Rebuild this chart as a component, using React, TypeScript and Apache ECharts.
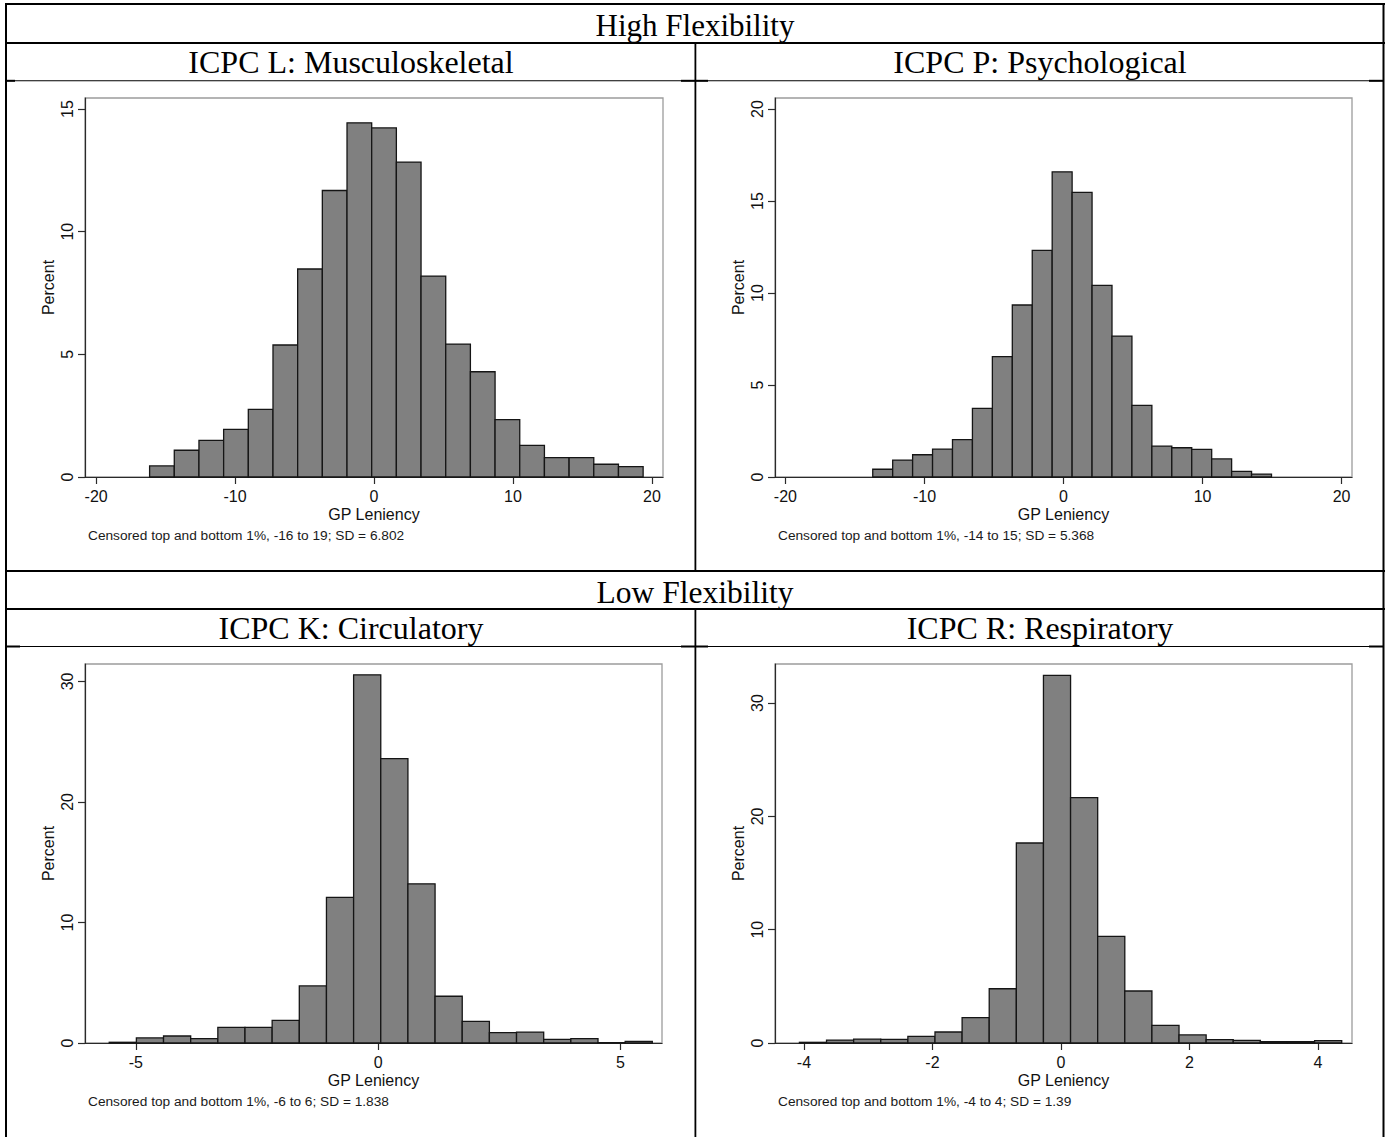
import React, { useEffect, useRef } from "react";
import * as echarts from "echarts";

// ---- Data (percent per bin) ----
const MUSCULO_PCT = [0.45, 1.09, 1.49, 1.94, 2.76, 5.38, 8.48, 11.68, 14.44, 14.23, 12.84, 8.19, 5.42, 4.29, 2.34, 1.29, 0.79, 0.79, 0.52, 0.42];
const PSYCH_PCT = [0.42, 0.92, 1.21, 1.52, 2.03, 3.73, 6.54, 9.35, 12.32, 16.59, 15.47, 10.42, 7.66, 3.89, 1.68, 1.59, 1.5, 0.98, 0.31, 0.16];
const CIRC_PCT = [0.06, 0.42, 0.58, 0.36, 1.3, 1.3, 1.88, 4.74, 12.08, 30.55, 23.6, 13.21, 3.88, 1.8, 0.86, 0.91, 0.3, 0.36, 0.03, 0.14];
const RESP_PCT = [0.06, 0.26, 0.35, 0.32, 0.59, 0.97, 2.24, 4.79, 17.65, 32.44, 21.65, 9.41, 4.59, 1.56, 0.71, 0.29, 0.24, 0.12, 0.12, 0.21];

// bin lower edge of first bin and bin width (GP leniency units)
const BIN_STARTS = [-16.15, -13.72, -5.55, -4.07];
const BIN_WIDTHS = [1.776, 1.434, 0.5605, 0.422];

const X_TICKS_L = [-20, -10, 0, 10, 20];
const X_TICKS_P = [-20, -10, 0, 10, 20];
const X_TICKS_K = [-5, 0, 5];
const X_TICKS_R = [-4, -2, 0, 2, 4];
const Y_TICKS_L = [0, 5, 10, 15];
const Y_TICKS_P = [0, 5, 10, 15, 20];
const Y_TICKS_K = [0, 10, 20, 30];
const Y_TICKS_R = [0, 10, 20, 30];

const X_RANGES = [[-20.8, 20.8], [-20.75, 20.75], [-6.05, 5.86], [-4.45, 4.53]];
const Y_MAX = [15.45, 20.6, 31.45, 33.45];

const PANEL_TITLES = ["ICPC L: Musculoskeletal", "ICPC P: Psychological", "ICPC K: Circulatory", "ICPC R: Respiratory"];
const ROW_TITLES = ["High Flexibility", "Low Flexibility"];
const NOTES = [
  "Censored top and bottom 1%, -16 to 19; SD = 6.802",
  "Censored top and bottom 1%, -14 to 15; SD = 5.368",
  "Censored top and bottom 1%, -6 to 6; SD = 1.838",
  "Censored top and bottom 1%, -4 to 4; SD = 1.39",
];

const SANS = '"Liberation Sans", Arial, sans-serif';
const SERIF = '"Liberation Serif", "Times New Roman", serif';

const GRIDS = [
  { left: 85, top: 98, width: 578, height: 379 },
  { left: 775, top: 98, width: 577, height: 379 },
  { left: 85, top: 664, width: 577, height: 379 },
  { left: 775, top: 664, width: 577, height: 379 },
];

function buildOption() {
  const pcts = [MUSCULO_PCT, PSYCH_PCT, CIRC_PCT, RESP_PCT];
  const xTicks = [X_TICKS_L, X_TICKS_P, X_TICKS_K, X_TICKS_R];
  const yTicks = [Y_TICKS_L, Y_TICKS_P, Y_TICKS_K, Y_TICKS_R];

  const grid = GRIDS.map((g) => ({
    ...g,
    show: true,
    borderColor: "#9c9c9c",
    borderWidth: 1.3,
    backgroundColor: "transparent",
    containLabel: false,
  }));

  const axisCommon = {
    axisLine: { show: true, onZero: false, lineStyle: { color: "#2a2a2a", width: 1.2 } },
    splitLine: { show: false },
  };

  const xAxis = GRIDS.map((_, i) => ({
    gridIndex: i,
    type: "value",
    min: X_RANGES[i][0],
    max: X_RANGES[i][1],
    ...axisCommon,
    axisTick: { show: true, length: 7, customValues: xTicks[i], lineStyle: { color: "#2a2a2a", width: 1.2 } },
    axisLabel: { customValues: xTicks[i], margin: 11, fontSize: 16, color: "#111", fontFamily: SANS },
    name: "GP Leniency",
    nameLocation: "middle",
    nameGap: 29,
    nameTextStyle: { fontSize: 16, color: "#111", fontFamily: SANS },
  }));

  const yAxis = GRIDS.map((_, i) => ({
    gridIndex: i,
    type: "value",
    min: 0,
    max: Y_MAX[i],
    ...axisCommon,
    axisTick: { show: true, length: 7, customValues: yTicks[i], lineStyle: { color: "#2a2a2a", width: 1.2 } },
    axisLabel: { customValues: yTicks[i], rotate: 90, margin: 10, fontSize: 16, color: "#111", fontFamily: SANS },
    name: "Percent",
    nameLocation: "middle",
    nameGap: 29,
    nameRotate: 90,
    nameTextStyle: { fontSize: 16, color: "#111", fontFamily: SANS },
  }));

  const series = pcts.map((arr, i) => ({
    type: "custom",
    xAxisIndex: i,
    yAxisIndex: i,
    encode: { x: [0, 1], y: 2 },
    data: arr.map((v, k) => [BIN_STARTS[i] + k * BIN_WIDTHS[i], BIN_STARTS[i] + (k + 1) * BIN_WIDTHS[i], v]),
    renderItem: (params: any, api: any) => {
      const p0 = api.coord([api.value(0), api.value(2)]);
      const p1 = api.coord([api.value(1), 0]);
      return {
        type: "rect",
        shape: { x: p0[0], y: p0[1], width: p1[0] - p0[0], height: p1[1] - p0[1] },
        style: { fill: "#808080", stroke: "#151515", lineWidth: 1.3 },
      };
    },
  }));

  const rect = (x: number, y: number, w: number, h: number) => ({
    type: "rect",
    shape: { x, y, width: w, height: h },
    style: { fill: "#000" },
    silent: true,
  });

  const lines = [
    rect(5, 3, 1380, 2),
    rect(5, 42, 1380, 2),
    rect(6, 80.3, 1378, 1),
    rect(5, 570, 1380, 2),
    rect(5, 608, 1380, 2),
    rect(6, 646, 1378, 1),
    rect(5, 3, 2, 1134),
    rect(1382.5, 3, 2, 1134),
    rect(694.5, 42, 1.8, 530),
    rect(694.5, 608, 1.8, 529),
    // small thick segments where the cell borders meet
    rect(6, 79.8, 9, 2),
    rect(681, 79.8, 27, 2),
    rect(1369, 79.8, 14, 2),
    rect(6, 645.5, 14, 2),
    rect(681, 645.5, 27, 2),
    rect(1369, 645.5, 14, 2),
  ];

  const text = (t: string, x: number, y: number, size: number, family: string, align: string) => ({
    type: "text",
    x,
    y,
    silent: true,
    style: { text: t, fontSize: size, fontFamily: family, fill: "#000", align, verticalAlign: "middle" },
  });

  const texts = [
    text(ROW_TITLES[0], 695, 25, 31, SERIF, "center"),
    text(ROW_TITLES[1], 695, 592, 31.5, SERIF, "center"),
    text(PANEL_TITLES[0], 351, 62, 32, SERIF, "center"),
    text(PANEL_TITLES[1], 1040, 62, 32, SERIF, "center"),
    text(PANEL_TITLES[2], 351, 628, 32, SERIF, "center"),
    text(PANEL_TITLES[3], 1040, 628, 32, SERIF, "center"),
    { ...text(NOTES[0], 88, 535.5, 13.7, SANS, "left"), style: { ...text(NOTES[0], 0, 0, 13.7, SANS, "left").style, fill: "#1a1a1a" } },
    { ...text(NOTES[1], 778, 535.5, 13.7, SANS, "left"), style: { ...text(NOTES[1], 0, 0, 13.7, SANS, "left").style, fill: "#1a1a1a" } },
    { ...text(NOTES[2], 88, 1101.5, 13.7, SANS, "left"), style: { ...text(NOTES[2], 0, 0, 13.7, SANS, "left").style, fill: "#1a1a1a" } },
    { ...text(NOTES[3], 778, 1101.5, 13.7, SANS, "left"), style: { ...text(NOTES[3], 0, 0, 13.7, SANS, "left").style, fill: "#1a1a1a" } },
  ];

  return {
    animation: false,
    backgroundColor: "#fff",
    textStyle: { fontFamily: SANS },
    grid,
    xAxis,
    yAxis,
    series,
    graphic: [...lines, ...texts],
  };
}

export default function App() {
  const ref = useRef<HTMLDivElement>(null);
  useEffect(() => {
    if (!ref.current) return;
    const chart = echarts.init(ref.current, null, { renderer: "svg" });
    chart.setOption(buildOption() as any);
    return () => chart.dispose();
  }, []);
  return (
    <div
      ref={ref}
      style={{ position: "absolute", left: 0, top: 0, width: 1389, height: 1137, background: "#fff" }}
    />
  );
}
